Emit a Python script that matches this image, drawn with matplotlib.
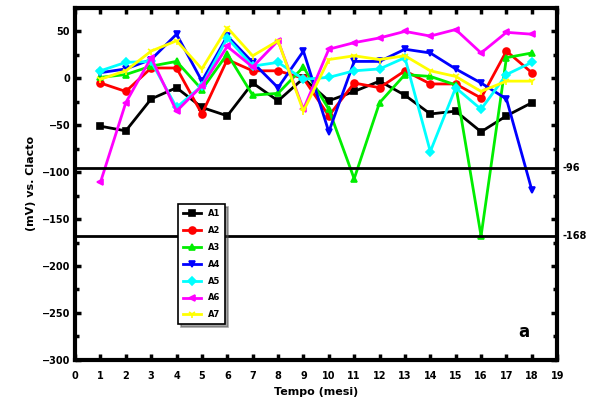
import matplotlib
matplotlib.use("Agg")
import matplotlib.pyplot as plt
from matplotlib.ticker import MultipleLocator

months = list(range(1, 19))
labels = ["A1", "A2", "A3", "A4", "A5", "A6", "A7"]
a1 = [-51, -56, -22, -10, -31, -40, -5, -24, 0, -24, -14, -3, -18, -38, -35, -57, -40, -26]
a2 = [-5, -14, 11, 11, -38, 20, 8, 8, 0, -40, -5, -10, 8, -6, -6, -21, 29, 6]
a3 = [1, 4, 13, 18, -12, 26, -18, -16, 12, -33, -107, -26, 4, 2, -7, -168, 22, 27]
a4 = [6, 10, 20, 47, -3, 45, 17, -10, 29, -57, 18, 18, 31, 27, 10, -5, -22, -119]
a5 = [8, 17, 18, -31, -8, 43, 13, 17, -1, 1, 8, 10, 22, -78, -10, -33, 4, 17]
a6 = [-111, -26, 22, -35, -8, 34, 12, 40, -33, 31, 38, 43, 50, 45, 52, 27, 49, 47]
a7 = [-1, 8, 29, 40, 10, 54, 24, 40, -35, 20, 24, 20, 24, 8, 2, -14, -3, -3]
series = [a1, a2, a3, a4, a5, a6, a7]
colors = ["black", "red", "#00ee00", "blue", "cyan", "magenta", "yellow"]
markers = ["s", "o", "^", "v", "D", "<", "1"]
msizes = [4, 5, 5, 5, 4, 4, 6]
hlines = [-96, -168]
hline_labels = ["-96", "-168"]
xticks = list(range(0, 20))
yticks = [50, 0, -50, -100, -150, -200, -250, -300]

fig = plt.figure(figsize=(6.05, 4.17), dpi=100)
ax = fig.add_axes([0.124, 0.137, 0.797, 0.844])

for s, c, m, ms, lab in zip(series, colors, markers, msizes, labels):
    ax.plot(months, s, color=c, marker=m, markersize=ms, lw=2,
            markeredgewidth=1.2, label=lab)

for h, hl in zip(hlines, hline_labels):
    ax.axhline(h, color="black", lw=2)
    ax.text(1.01, h, hl, transform=ax.get_yaxis_transform(), ha="left",
            va="center", fontsize=7, fontweight="bold")

ax.set_xlim(0, 19)
ax.set_ylim(-300, 75)
ax.set_xticks(xticks)
ax.set_yticks(yticks)
ax.yaxis.set_minor_locator(MultipleLocator(25))
ax.tick_params(axis="both", which="both", direction="in", top=True, right=True,
               width=2.5, labelsize=7)
ax.tick_params(which="major", length=4)
ax.tick_params(which="minor", length=3)
ax.tick_params(axis="x", which="major", pad=8)
for t in ax.get_xticklabels() + ax.get_yticklabels():
    t.set_fontweight("bold")
for sp in ax.spines.values():
    sp.set_linewidth(3)

ax.set_xlabel("Tempo (mesi)", fontsize=8, fontweight="bold")
ax.set_ylabel("(mV) vs. Clacto", fontsize=8, fontweight="bold")

ax.text(17.7, -270, "a", fontsize=12, fontweight="bold", ha="center", va="center")

leg = ax.legend(loc="upper left", bbox_to_anchor=(0.205, 0.455),
                prop={"weight": "bold", "size": 6}, frameon=True, fancybox=False,
                shadow=True, edgecolor="black", handlelength=2.2,
                labelspacing=0.95, borderpad=0.6)
leg.get_frame().set_linewidth(1.2)

fig.savefig("out.png", dpi=100)
